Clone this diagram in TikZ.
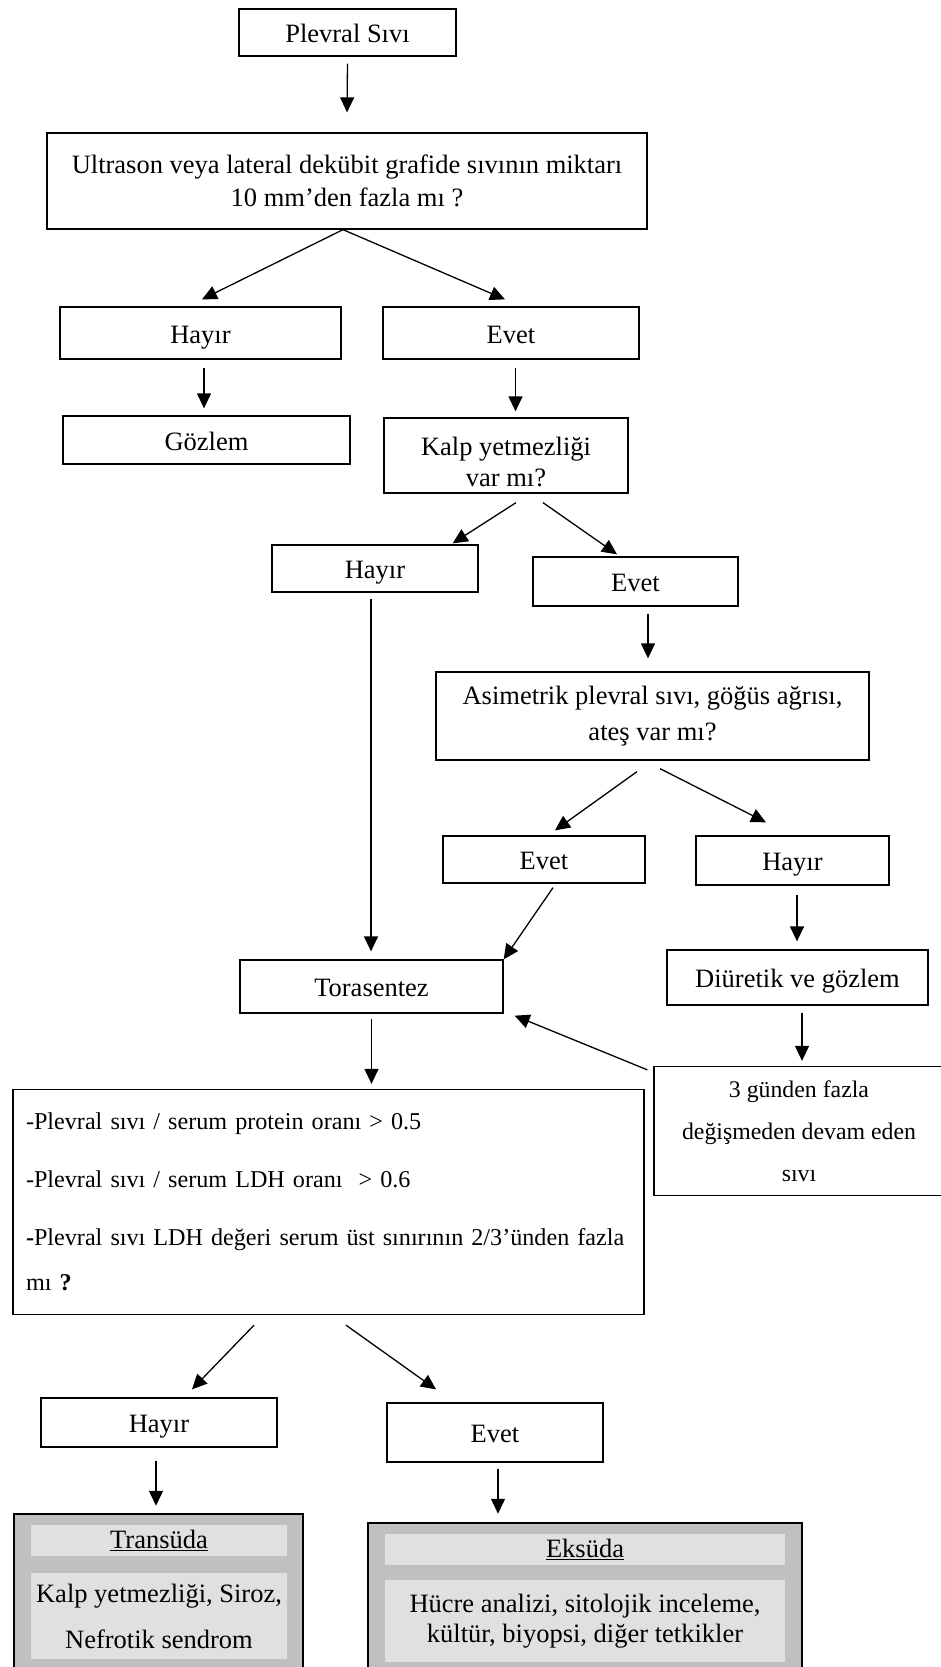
\documentclass[tikz,border=0pt]{standalone}
\usepackage{fontspec}
\setmainfont{Liberation Serif}
\usetikzlibrary{arrows.meta}
\definecolor{darkfill}{RGB}{192,192,192}
\definecolor{lightfill}{RGB}{224,224,224}

\begin{document}
\begin{tikzpicture}[x=1pt, y=-1pt,
    block/.style ={draw, line width=1.3pt, align=center, inner sep=0pt,
      font=\fontsize{26.5}{33}\selectfont},
    oneline/.style ={block, text height=24pt, text depth=4pt},
    result/.style ={draw, line width=2.5pt, fill=darkfill, inner sep=0pt},
    panel/.style ={fill=lightfill, align=center, inner sep=0pt,
      font=\fontsize{26.5}{33}\selectfont},
    arrow/.style ={line width=1.3pt, -{Triangle[length=15pt,width=14pt]}}]
   \useasboundingbox (0,0) rectangle (940,1667);

   \node[oneline, minimum width=217pt, minimum height=47pt] (plevral) at (347.5,32.5) {Plevral Sıvı};
   \node[block, minimum width=600pt, minimum height=96pt] (ultrason) at (347,181)
     {Ultrason veya lateral dekübit grafide sıvının miktarı\\ 10 mm’den fazla mı ?};
   \node[oneline, minimum width=281pt, minimum height=52pt] (hayir1) at (200.5,333) {Hayır};
   \node[oneline, minimum width=256pt, minimum height=52pt] (evet1) at (511,333) {Evet};
   \node[oneline, minimum width=287pt, minimum height=48pt] (gozlem) at (206.5,440) {Gözlem};
   \node[block, minimum width=244pt, minimum height=75pt, text height=62pt, font=\fontsize{26.5}{31}\selectfont] (kalp) at (506,455.5)
     {Kalp yetmezliği\\ var mı?};
   \node[oneline, minimum width=206pt, minimum height=47pt] (hayir2) at (375,568.5) {Hayır};
   \node[oneline, minimum width=205pt, minimum height=49pt] (evet2) at (635.5,581.5) {Evet};
   \node[block, minimum width=433pt, minimum height=88pt, font=\fontsize{26.5}{36}\selectfont] (asim) at (652.5,716)
     {Asimetrik plevral sıvı, göğüs ağrısı,\\ ateş var mı?};
   \node[oneline, minimum width=202pt, minimum height=47pt] (evet3) at (544,859.5) {Evet};
   \node[oneline, minimum width=193pt, minimum height=49pt] (hayir3) at (792.5,860.5) {Hayır};
   \node[oneline, minimum width=263pt, minimum height=53pt] (torasentez) at (371.5,986.5) {Torasentez};
   \node[oneline, minimum width=261pt, minimum height=55pt] (diuretik) at (797.5,977.5) {Diüretik ve gözlem};
   \node[block, minimum width=290pt, minimum height=129pt, font=\fontsize{23.8}{42}\selectfont] (gunden) at (799,1131)
     {3 günden fazla\\ değişmeden devam eden\\ sıvı};
   \node[block, align=left, text width=605pt, inner xsep=13pt, minimum width=631pt, minimum height=225pt,
     font=\fontsize{24.15}{45}\selectfont] (criteria) at (328.5,1202)
     {-Plevral sıvı / serum protein oranı > 0.5\\[13pt]
      -Plevral sıvı / serum LDH oranı \ > 0.6\\[13pt]
      \mbox{\textbf{-}Plevral sıvı LDH değeri serum üst sınırının 2/3’ünden fazla}\\
      mı \textbf{?}};
   \node[oneline, minimum width=236pt, minimum height=49pt] (hayir4) at (159,1422.5) {Hayır};
   \node[oneline, minimum width=216pt, minimum height=59pt] (evet4) at (495,1432.5) {Evet};

   \node[result, minimum width=289pt, minimum height=166pt] (transuda) at (158.5,1597) {};
   \node[panel, minimum width=256pt, minimum height=31pt] (transhead) at (159,1540.5) {\underline{Transüda}};
   \node[panel, minimum width=256pt, minimum height=86pt, font=\fontsize{26.5}{46}\selectfont] (translist) at (159,1616)
     {Kalp yetmezliği, Siroz,\\ Nefrotik sendrom};
   \node[result, minimum width=434pt, minimum height=157pt] (eksuda) at (585,1601.5) {};
   \node[panel, minimum width=400pt, minimum height=31pt] (ekshead) at (585,1549.5) {\underline{Eksüda}};
   \node[panel, minimum width=400pt, minimum height=82pt, font=\fontsize{26.5}{30}\selectfont] (ekslist) at (585,1621)
     {Hücre analizi, sitolojik inceleme,\\ kültür, biyopsi, diğer tetkikler};

   \draw[arrow] ([yshift=-7pt]plevral.south) -- ([yshift=20pt]ultrason.north);
   \draw[arrow] ([xshift=-4pt]ultrason.south) -- ([xshift=1.5pt,yshift=7pt]hayir1.north);
   \draw[arrow] ([xshift=-4pt]ultrason.south) -- ([xshift=-6pt,yshift=7pt]evet1.north);
   \draw[arrow] ([xshift=3.5pt,yshift=-8pt]hayir1.south) -- ([xshift=-2.5pt,yshift=7pt]gozlem.north);
   \draw[arrow] ([xshift=4.5pt,yshift=-8pt]evet1.south) -- ([xshift=9.5pt,yshift=6pt]kalp.north);
   \draw[arrow] ([xshift=10pt,yshift=-9pt]kalp.south) -- ([xshift=-26pt,yshift=1pt]hayir2.north east);
   \draw[arrow] ([xshift=37pt,yshift=-9pt]kalp.south) -- ([xshift=-18.5pt,yshift=2pt]evet2.north);
   \draw[arrow] ([xshift=-4pt,yshift=-6pt]hayir2.south) -- ([xshift=-0.5pt,yshift=8pt]torasentez.north);
   \draw[arrow] ([xshift=12.5pt,yshift=-7pt]evet2.south) -- ([xshift=-4.5pt,yshift=13pt]asim.north);
   \draw[arrow] ([xshift=-15.5pt,yshift=-11pt]asim.south) -- ([xshift=11pt,yshift=5pt]evet3.north);
   \draw[arrow] ([xshift=7.5pt,yshift=-8pt]asim.south) -- ([xshift=-26.5pt,yshift=13pt]hayir3.north);
   \draw[arrow] ([xshift=9pt,yshift=-4pt]evet3.south) -- (torasentez.north east);
   \draw[arrow] ([xshift=4.5pt,yshift=-9pt]hayir3.south) -- ([xshift=-0.5pt,yshift=8pt]diuretik.north);
   \draw[arrow] ([xshift=4.5pt,yshift=-7pt]diuretik.south) -- ([xshift=3pt,yshift=5pt]gunden.north);
   \draw[arrow] ([xshift=-6pt,yshift=-4pt]gunden.north west) -- ([xshift=11pt,yshift=-2pt]torasentez.south east);
   \draw[arrow] ([yshift=-5pt]torasentez.south) -- ([yshift=5pt]torasentez.south |- criteria.north);
   \draw[arrow] ([xshift=-74.5pt,yshift=-10pt]criteria.south) -- ([xshift=33pt,yshift=8pt]hayir4.north);
   \draw[arrow] ([xshift=17.5pt,yshift=-10pt]criteria.south) -- ([xshift=-59pt,yshift=13pt]evet4.north);
   \draw[arrow] ([xshift=-3pt,yshift=-13pt]hayir4.south) -- ([xshift=-2.5pt,yshift=7pt]transuda.north);
   \draw[arrow] ([xshift=3pt,yshift=-6pt]evet4.south) -- ([xshift=3pt,yshift=8pt]evet4.south |- eksuda.north);
 \end{tikzpicture}
\end{document}
